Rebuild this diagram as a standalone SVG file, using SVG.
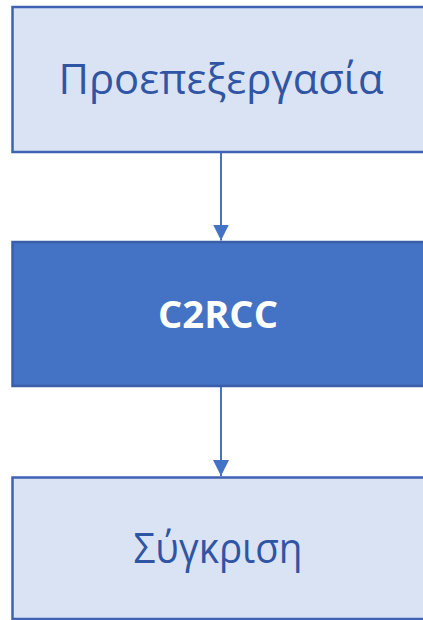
<svg xmlns="http://www.w3.org/2000/svg" width="423" height="620" viewBox="0 0 423 620">
  <defs>
    <style>
      .light { fill: #DAE3F3; stroke: #3F62B5; stroke-width: 2.5; }
      .dark { fill: #4472C4; stroke: #3A5FA8; stroke-width: 2.5; }
      .lbl { font-family: "Open Sans", "Noto Sans", "DejaVu Sans", sans-serif; font-size: 42px; fill: #2F55A4; text-anchor: middle; }
      .lbl-b { font-family: "Open Sans", "Noto Sans", "DejaVu Sans", sans-serif; font-size: 37px; font-weight: bold; fill: #FFFFFF; text-anchor: middle; }
      .conn { stroke: #4472C4; stroke-width: 2; fill: none; }
    </style>
    <marker id="arrow" markerUnits="userSpaceOnUse" markerWidth="16" markerHeight="16" viewBox="0 0 16 16" refX="16" refY="8" orient="auto">
      <path d="M0,0 L16,8 L0,16 Z" fill="#4472C4"/>
    </marker>
  </defs>

  <g id="preprocessing">
    <rect class="light" x="12.5" y="7" width="418" height="145"/>
    <text class="lbl" x="221" y="94" textLength="325" lengthAdjust="spacingAndGlyphs">Προεπεξεργασία</text>
  </g>

  <g id="c2rcc">
    <rect class="dark" x="12.5" y="242" width="418" height="144"/>
    <text class="lbl-b" x="218" y="328" textLength="120" lengthAdjust="spacingAndGlyphs">C2RCC</text>
  </g>

  <g id="comparison">
    <rect class="light" x="12.5" y="477.5" width="418" height="141.5"/>
    <text class="lbl" x="218" y="563" textLength="169" lengthAdjust="spacingAndGlyphs">Σύγκριση</text>
  </g>

  <g id="connectors">
    <line class="conn" x1="221" y1="153" x2="221" y2="240.5" marker-end="url(#arrow)"/>
    <line class="conn" x1="221" y1="387" x2="221" y2="476" marker-end="url(#arrow)"/>
  </g>
</svg>
